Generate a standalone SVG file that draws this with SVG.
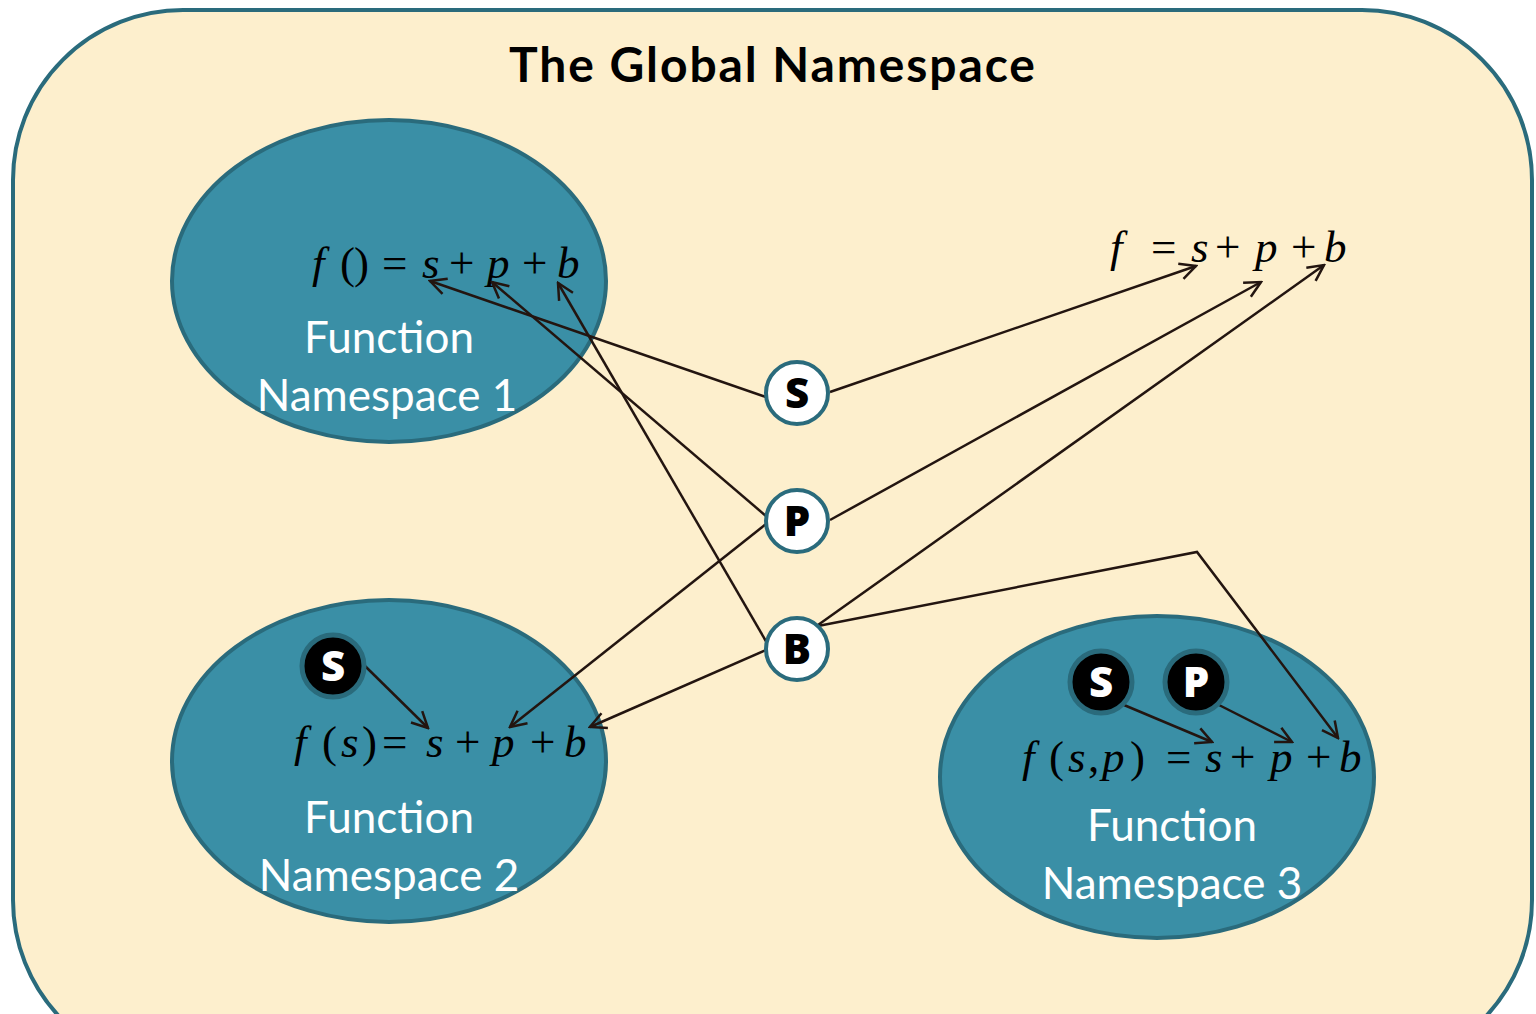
<svg xmlns="http://www.w3.org/2000/svg" width="1536" height="1014" viewBox="0 0 1536 1014">
<defs>
<style>
.ell{fill:#3a8fa6;stroke:#2a6b7c;stroke-width:4}
.wc{fill:#ffffff;stroke:#2a6b7c;stroke-width:4}
.bc{fill:#000000;stroke:#2a6b7c;stroke-width:5}
.lbl{font-family:"Lato","Open Sans","Liberation Sans",sans-serif;font-size:44px;fill:#ffffff;text-anchor:middle}
.ltr{font-family:"Open Sans","Liberation Sans",sans-serif;font-weight:800;font-size:42px;text-anchor:middle}
.eq{font-family:"Liberation Serif","Times New Roman",serif;font-size:45px;fill:#000}
.it{font-style:italic}
.cn{fill:none;stroke:#231510;stroke-width:2.5}
</style>
<marker id="ah" viewBox="0 0 20 20" refX="18" refY="10" markerWidth="20" markerHeight="20" markerUnits="userSpaceOnUse" orient="auto">
<path d="M2,2 L18,10 L2,18" fill="none" stroke="#231510" stroke-width="2.5"/>
</marker>
</defs>
<rect x="0" y="0" width="1536" height="1014" fill="#ffffff"/>
<g id="global">
<rect x="13" y="10" width="1519" height="1060" rx="170" ry="170" fill="#fdefcd" stroke="#2a6b7c" stroke-width="4"/>
<text x="773" y="82" font-family="Lato,'Open Sans','Liberation Sans',sans-serif" font-weight="bold" font-size="48" letter-spacing="1.9" text-anchor="middle" fill="#000">The Global Namespace</text>
</g>
<g id="ns1">
<ellipse class="ell" cx="389" cy="281" rx="217" ry="161"/>
<text class="eq" y="278"><tspan class="it" x="312">f</tspan><tspan x="340">(</tspan><tspan x="354">)</tspan><tspan x="382">=</tspan><tspan class="it" x="422">s</tspan><tspan x="449">+</tspan><tspan class="it" x="487">p</tspan><tspan x="522">+</tspan><tspan class="it" x="557">b</tspan></text>
<text class="lbl" x="389" y="353">Function</text>
<text class="lbl" x="387" y="411">Namespace 1</text>
</g>
<g id="ns2">
<ellipse class="ell" cx="389" cy="761" rx="217" ry="161"/>
<text class="eq" y="757"><tspan class="it" x="294">f</tspan><tspan x="322">(</tspan><tspan class="it" x="341">s</tspan><tspan x="362">)</tspan><tspan x="382">=</tspan><tspan class="it" x="426">s</tspan><tspan x="455">+</tspan><tspan class="it" x="492">p</tspan><tspan x="530">+</tspan><tspan class="it" x="564">b</tspan></text>
<text class="lbl" x="389" y="833">Function</text>
<text class="lbl" x="389" y="891">Namespace 2</text>
</g>
<g id="ns3">
<ellipse class="ell" cx="1157" cy="777" rx="217" ry="161"/>
<text class="eq" y="772"><tspan class="it" x="1022">f</tspan><tspan x="1049">(</tspan><tspan class="it" x="1068">s</tspan><tspan x="1088">,</tspan><tspan class="it" x="1102">p</tspan><tspan x="1130">)</tspan><tspan x="1166">=</tspan><tspan class="it" x="1205">s</tspan><tspan x="1230">+</tspan><tspan class="it" x="1270">p</tspan><tspan x="1306">+</tspan><tspan class="it" x="1339">b</tspan></text>
<text class="lbl" x="1172" y="841">Function</text>
<text class="lbl" x="1172" y="899">Namespace 3</text>
</g>
<g id="global-eq">
<text class="eq" y="262"><tspan class="it" x="1110">f</tspan><tspan x="1151">=</tspan><tspan class="it" x="1191">s</tspan><tspan x="1215">+</tspan><tspan class="it" x="1255">p</tspan><tspan x="1291">+</tspan><tspan class="it" x="1324">b</tspan></text>
</g>
<g id="connectors">
<line class="cn" x1="766" y1="397" x2="430" y2="281" marker-end="url(#ah)"/>
<line class="cn" x1="830" y1="392" x2="1196" y2="266" marker-end="url(#ah)"/>
<line class="cn" x1="766" y1="516" x2="492" y2="282" marker-end="url(#ah)"/>
<line class="cn" x1="830" y1="520" x2="1261" y2="282" marker-end="url(#ah)"/>
<line class="cn" x1="766" y1="524" x2="510" y2="727" marker-end="url(#ah)"/>
<line class="cn" x1="767" y1="643" x2="558" y2="283" marker-end="url(#ah)"/>
<line class="cn" x1="818" y1="625" x2="1324" y2="265" marker-end="url(#ah)"/>
<polyline class="cn" points="818,626 1197,552 1338,738" marker-end="url(#ah)"/>
<line class="cn" x1="766" y1="650" x2="590" y2="727" marker-end="url(#ah)"/>
<line class="cn" x1="365" y1="666" x2="428" y2="728" marker-end="url(#ah)"/>
<line class="cn" x1="1124" y1="705" x2="1212" y2="742" marker-end="url(#ah)"/>
<line class="cn" x1="1219" y1="705" x2="1292" y2="742" marker-end="url(#ah)"/>
</g>
<g id="node-S">
<circle class="wc" cx="797" cy="393" r="31"/>
<text class="ltr" x="797" y="408" fill="#000">S</text>
</g>
<g id="node-P">
<circle class="wc" cx="797" cy="521" r="31"/>
<text class="ltr" x="797" y="536" fill="#000">P</text>
</g>
<g id="node-B">
<circle class="wc" cx="797" cy="649" r="31"/>
<text class="ltr" x="797" y="664" fill="#000">B</text>
</g>
<g id="local-S2">
<circle class="bc" cx="333" cy="666" r="31"/>
<text class="ltr" x="333" y="681" fill="#fff">S</text>
</g>
<g id="local-S3">
<circle class="bc" cx="1101" cy="682" r="31"/>
<text class="ltr" x="1101" y="697" fill="#fff">S</text>
</g>
<g id="local-P3">
<circle class="bc" cx="1196" cy="682" r="31"/>
<text class="ltr" x="1196" y="697" fill="#fff">P</text>
</g>
</svg>
